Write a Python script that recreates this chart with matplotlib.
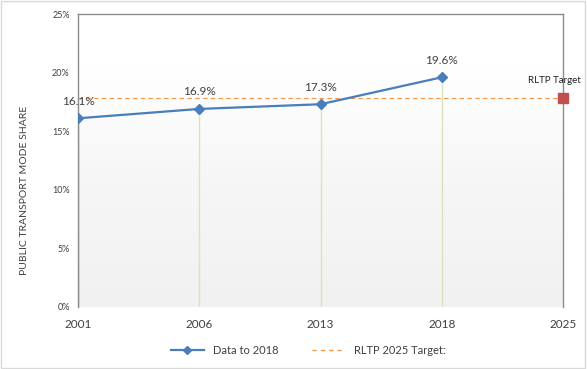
import numpy as np
import matplotlib
matplotlib.use("Agg")
import matplotlib.pyplot as plt
from matplotlib.lines import Line2D

plt.rcParams['font.family'] = ['Lato', 'DejaVu Sans']

# data
years = ['2001', '2006', '2013', '2018', '2025']
share = [16.1, 16.9, 17.3, 19.6]          # data to 2018
target = 17.8                              # RLTP 2025 target
y_ticks = [0, 5, 10, 15, 20, 25]

blue = '#4a7ebb'
orange = '#f79646'
red = '#c0504d'

fig = plt.figure(figsize=(5.87, 3.69), dpi=100)
ax = fig.add_axes([78/587, 62/369, 485/587, 293/369])
x = np.arange(len(years))
ax.set_xlim(0, len(years) - 1)
ax.set_ylim(0, 25)

# plot area fill, light grey at bottom fading to white
grad = np.linspace(0, 1, 256).reshape(-1, 1)
cmap = matplotlib.colors.LinearSegmentedColormap.from_list('g', ['#f1f1f1', '#f6f6f6', '#ffffff'])
ax.imshow(grad, extent=[0, 4, 0, 20.5], origin='lower', aspect='auto', cmap=cmap, zorder=0)

# drop lines
for i, v in enumerate(share):
    ax.vlines(x[i], 0, v, color='#9aae6a' if i == 0 else '#d7e4bd', lw=1, zorder=1)

# target line + marker
ax.axhline(target, color=orange, ls=(0, (4, 3)), lw=0.8, zorder=2)
ax.plot([x[-1]], [target], marker='s', ms=7, color=red, ls='none', zorder=5, clip_on=False)
ax.text(x[-1] - 0.07, target + 1.1, 'RLTP Target', fontsize=7, color='#222222', ha='center', va='bottom')

# data line
ax.plot(x[:len(share)], share, color=blue, lw=1.6, marker='D', ms=5, zorder=4)
for i, v in enumerate(share):
    ax.text(x[i], v + 1.0, f'{v:.1f}%', ha='center', va='bottom', fontsize=8.5, color='#404040')

ax.set_xticks(x)
ax.set_xticklabels(years, fontsize=8.5, color='#404040')
ax.set_yticks(y_ticks)
ax.set_yticklabels([f'{t}%' for t in y_ticks], fontsize=6.5, color='#404040')
ax.tick_params(length=0)
ax.tick_params(axis='x', pad=9)
ax.tick_params(axis='y', pad=6)
for s in ax.spines.values():
    s.set_color('#8c8c8c')
    s.set_linewidth(1)
ax.spines['bottom'].set_visible(False)

fig.text(25/587, 1 - 190/369, 'PUBLIC TRANSPORT MODE SHARE', rotation=90,
         ha='center', va='center', fontsize=7.5, color='#404040')

handles = [Line2D([], [], color=blue, lw=1.6, marker='D', ms=4),
           Line2D([], [], color=orange, lw=1, ls=(0, (3, 3)))]
fig.legend(handles, ['Data to 2018', 'RLTP 2025 Target:'], loc='center',
           bbox_to_anchor=(308/587, 1 - 350/369), ncol=2, frameon=False,
           fontsize=8, labelcolor='#404040', handlelength=3, columnspacing=3)

# outer chart frame
fig.patches.append(plt.Rectangle((0.002, 0.004), 0.994, 0.992, transform=fig.transFigure,
                                 fill=False, ec='#d9d9d9', lw=1))

fig.savefig('out.png', dpi=100)
